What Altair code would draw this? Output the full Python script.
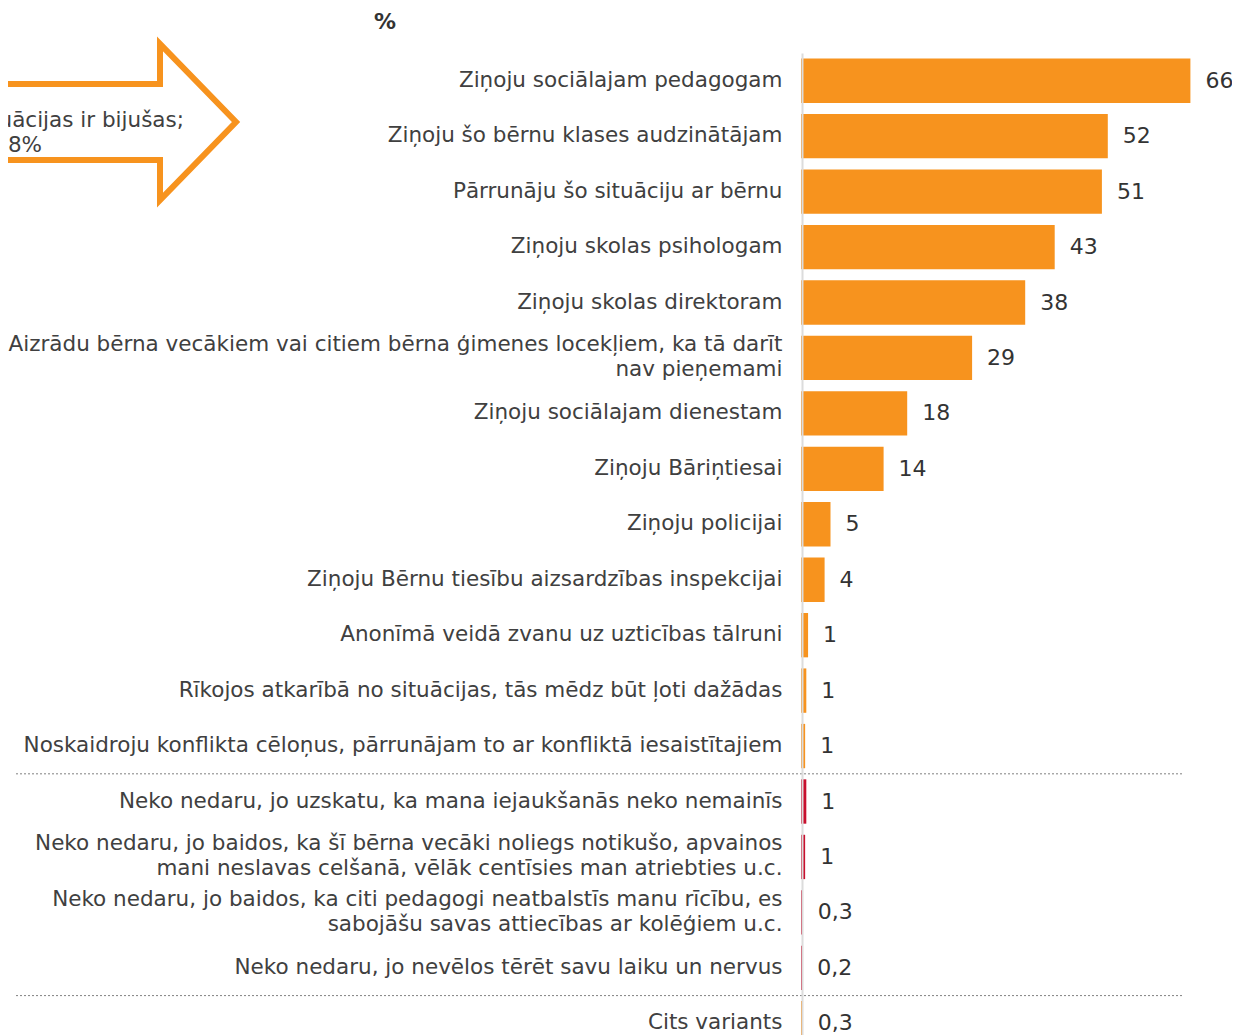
import altair as alt
import pandas as pd

categories = [
    "Ziņoju sociālajam pedagogam",
    "Ziņoju šo bērnu klases audzinātājam",
    "Pārrunāju šo situāciju ar bērnu",
    "Ziņoju skolas psihologam",
    "Ziņoju skolas direktoram",
    "Aizrādu bērna vecākiem vai citiem bērna ģimenes locekļiem, ka tā darīt|nav pieņemami",
    "Ziņoju sociālajam dienestam",
    "Ziņoju Bāriņtiesai",
    "Ziņoju policijai",
    "Ziņoju Bērnu tiesību aizsardzības inspekcijai",
    "Anonīmā veidā zvanu uz uzticības tālruni",
    "Rīkojos atkarībā no situācijas, tās mēdz būt ļoti dažādas",
    "Noskaidroju konflikta cēloņus, pārrunājam to ar konfliktā iesaistītajiem",
    "Neko nedaru, jo uzskatu, ka mana iejaukšanās neko nemainīs",
    "Neko nedaru, jo baidos, ka šī bērna vecāki noliegs notikušo, apvainos|mani neslavas celšanā, vēlāk centīsies man atriebties u.c.",
    "Neko nedaru, jo baidos, ka citi pedagogi neatbalstīs manu rīcību, es|sabojāšu savas attiecības ar kolēģiem u.c.",
    "Neko nedaru, jo nevēlos tērēt savu laiku un nervus",
    "Cits variants",
]
values = [66, 52, 51, 43, 38, 29, 18, 14, 5, 4, 1.2, 0.9, 0.7, 0.9, 0.7, 0.3, 0.2, 0.3]
groups = ["rīkojas"] * 13 + ["nerīkojas"] * 4 + ["cits"]
separators_before = [
    "Neko nedaru, jo uzskatu, ka mana iejaukšanās neko nemainīs",
    "Cits variants",
]
arrow_line1 = "Ja šādas situācijas ir bijušas;"
arrow_line2 = "58%"
unit_label = "%"

ORANGE = "#F7931E"
RED = "#C8102E"
TEXT = "#404040"
FONT = "DejaVu Sans"
FS = 21.5

df = pd.DataFrame({"cat": categories, "v": values, "g": groups})

yscale = alt.Scale(range=[0, 998], paddingInner=0.2, paddingOuter=0.1)

y_axis = alt.Axis(
    title=None, ticks=False, labelPadding=20, labelLimit=900,
    labelFontSize=FS, labelFont=FONT, labelColor=TEXT, labelLineHeight=25,
    labelExpr="split(datum.label, '|')", domainColor="#dcdcdc", domainWidth=2,
    labelAlign="right", offset=-1, zindex=1,
    labelOffset={"condition": {"test": "indexof(datum.value, '|') >= 0", "value": -12.5}, "value": 0},
)

base = alt.Chart(df)

bars = base.mark_bar().encode(
    x=alt.X("v:Q", scale=alt.Scale(domain=[0, 70]), axis=None),
    y=alt.Y("cat:N", sort=categories, scale=yscale, axis=y_axis),
    color=alt.Color("g:N", scale=alt.Scale(domain=["rīkojas", "nerīkojas", "cits"],
                                             range=[ORANGE, RED, ORANGE]), legend=None),
)

labels = base.transform_calculate(
    lbl="datum.v >= 0.5 ? format(round(datum.v), 'd') : replace(format(datum.v, '.1f'), '.', ',')"
).mark_text(align="left", baseline="middle", dx=15, fontSize=22, font=FONT, color="#333333").encode(
    x=alt.X("v:Q"),
    y=alt.Y("cat:N", sort=categories),
    text="lbl:N",
)

seps = alt.Chart(pd.DataFrame({"cat": separators_before})).mark_rule(
    strokeDash=[2, 2], color="#808080", strokeWidth=1, yOffset=-5.5
).encode(
    y=alt.Y("cat:N", sort=categories, bandPosition=0),
    x=alt.value(-785), x2=alt.value(381),
)

pct = alt.Chart(pd.DataFrame({"t": [unit_label]})).mark_text(
    fontWeight="bold", fontSize=22, font=FONT, color="#333333", align="center", baseline="middle"
).encode(text="t:N", x=alt.value(-416), y=alt.value(-31))

ARROW = "M -4 -0.38 L 0.24 -0.38 L 0.24 -0.78 L 1 0 L 0.24 0.78 L 0.24 0.38 L -4 0.38 Z"
arrow = alt.Chart(pd.DataFrame({"a": [1]})).mark_point(
    shape=ARROW, size=40000, filled=False, stroke=ORANGE, strokeWidth=6, opacity=1
).encode(x=alt.value(-665), y=alt.value(69))

arrow_t1 = alt.Chart(pd.DataFrame({"t": [arrow_line1]})).mark_text(
    fontSize=FS, font=FONT, color=TEXT, align="right", baseline="middle"
).encode(text="t:N", x=alt.value(-617), y=alt.value(68))

arrow_t2 = alt.Chart(pd.DataFrame({"t": [arrow_line2]})).mark_text(
    fontSize=FS, font=FONT, color=TEXT, align="right", baseline="middle"
).encode(text="t:N", x=alt.value(-759), y=alt.value(93))

chart = alt.layer(arrow, arrow_t1, arrow_t2, pct, seps, bars, labels).properties(
    width=413, height=982,
    padding={"left": 793, "top": 45, "right": 18, "bottom": 0},
    autosize=alt.AutoSizeParams(type="none"),
).configure_view(stroke=None)

chart.save("out.html", embed_options={"renderer": "svg", "actions": False})
